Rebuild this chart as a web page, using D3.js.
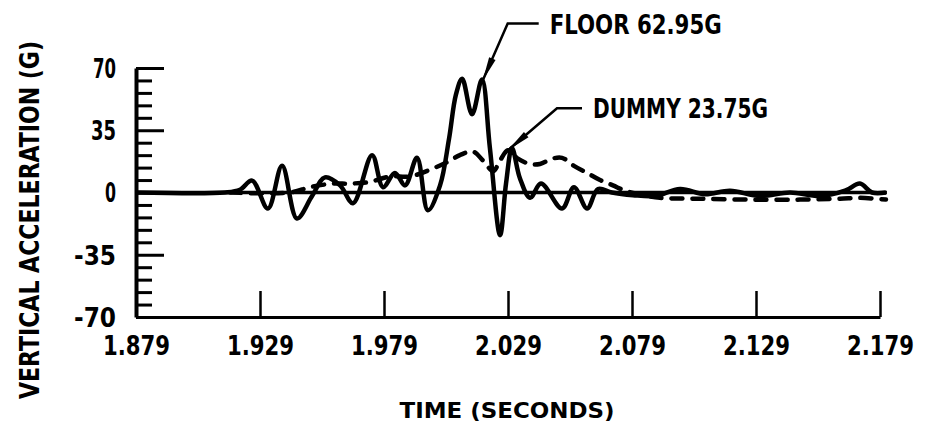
<!DOCTYPE html>
<html>
<head>
<meta charset="utf-8">
<script src="https://cdn.jsdelivr.net/npm/d3@7"></script>
<style>
  html, body { margin: 0; padding: 0; background: #fff; }
  svg text { font-family: "DejaVu Sans Condensed", "Liberation Sans Narrow", "DejaVu Sans", sans-serif; font-weight: bold; fill: #000; }
</style>
</head>
<body>
<svg id="chart" width="929" height="430"></svg>
<script>
// ---------- data ----------
const xTickValues = [1.879, 1.929, 1.979, 2.029, 2.079, 2.129, 2.179];
const xTickLabels = ["1.879", "1.929", "1.979", "2.029", "2.079", "2.129", "2.179"];
const yTickValues = [70, 35, 0, -35, -70];
const yTickLabels = ["70", "35", "0", "-35", "-70"];
const yMinorTicks = [63, 56, 49, 42, 28, 21, 14, 7, -7, -14, -21, -28, -42, -49, -56, -63];

const floorTime = [1.8790, 1.9149, 1.9209, 1.9258, 1.9322, 1.9379, 1.9439, 1.9500, 1.9552, 1.9613,
  1.9665, 1.9742, 1.9786, 1.9834, 1.9875, 1.9923, 1.9967, 2.0016, 2.0052, 2.0080,
  2.0105, 2.0145, 2.0185, 2.0217, 2.0258, 2.0282, 2.0306, 2.0338, 2.0379, 2.0423,
  2.0508, 2.0556, 2.0609, 2.0653, 2.0709, 2.0794, 2.0883, 2.0984, 2.1084, 2.1185,
  2.1306, 2.1427, 2.1548, 2.1649, 2.1709, 2.1758, 2.1814];
const floorG = [0, 0, 1.5, 6.7, -9, 15, -14.6, -2, 8.5, 4,
  -6, 21, 3, 11, 4, 19.5, -10, 4, 30, 55,
  64, 44, 63.5, 25, -24, 5, 25, 8, -3, 5,
  -9, 3, -9, 2, 0, -1.5, -2, 2, -1, 1,
  -2, 0, -2, 1, 5, 0, 0];

const dummyTime = [1.9169, 1.9411, 1.9492, 1.9584, 1.9653, 1.9734, 1.9814, 1.9895, 1.9996, 2.0044,
  2.0096, 2.0149, 2.0189, 2.0230, 2.0258, 2.0290, 2.0330, 2.0379, 2.0419, 2.0468,
  2.0508, 2.0556, 2.0609, 2.0661, 2.0713, 2.0762, 2.0822, 2.0903, 2.1064, 2.1266,
  2.1468, 2.1629, 2.1709, 2.1814];
const dummyG = [0, 0, 3, 5, 5, 6, 9, 9, 14, 17,
  21, 23, 18, 12, 18, 23.75, 19, 16, 16, 19,
  19.5, 15, 11, 7, 4, 1, -1, -3, -3.5, -4,
  -4, -3.5, -3, -4];

const floorPeak = { t: 2.0188, g: 62.95, label: "FLOOR 62.95G" };
const dummyPeak = { t: 2.0290, g: 23.75, label: "DUMMY 23.75G" };
const xTitle = "TIME (SECONDS)";
const yTitle = "VERTICAL ACCELERATION (G)";
const zeroLineEnd = 2.1818;

// ---------- chart ----------
const svg = d3.select("#chart");
const x = d3.scaleLinear().domain([1.879, 2.179]).range([136, 880]);
const y = d3.scaleLinear().domain([-70, 70]).range([317, 68]);

// zero line
svg.append("line")
  .attr("x1", x(1.879)).attr("x2", x(zeroLineEnd))
  .attr("y1", y(0)).attr("y2", y(0))
  .attr("stroke", "#000").attr("stroke-width", 3.5);

// x axis
const xAxis = svg.append("g")
  .attr("transform", `translate(0,${y(-70)})`)
  .call(d3.axisBottom(x).tickValues(xTickValues).tickSize(-26).tickSizeOuter(0)
    .tickFormat((d, i) => xTickLabels[i]));
xAxis.select(".domain").attr("stroke-width", 3).attr("stroke", "#000");
xAxis.selectAll(".tick line").attr("stroke-width", 2.5).attr("stroke", "#000");
xAxis.selectAll(".tick text")
  .attr("y", 38).attr("dy", null)
  .attr("font-size", 26)
  .attr("textLength", 67).attr("lengthAdjust", "spacingAndGlyphs");

// y axis minor ticks
const yMinor = svg.append("g")
  .attr("transform", `translate(${x(1.879)},0)`)
  .call(d3.axisLeft(y).tickValues(yMinorTicks).tickSize(-16).tickSizeOuter(0).tickFormat(""));
yMinor.select(".domain").remove();
yMinor.selectAll(".tick line").attr("stroke-width", 3).attr("stroke", "#000");

// y axis major
const yAxis = svg.append("g")
  .attr("transform", `translate(${x(1.879)},0)`)
  .call(d3.axisLeft(y).tickValues(yTickValues).tickSize(-28).tickSizeOuter(0)
    .tickFormat((d, i) => yTickLabels[i]));
yAxis.select(".domain").attr("stroke-width", 4).attr("stroke", "#000");
yAxis.selectAll(".tick line").attr("stroke-width", 3).attr("stroke", "#000");
const yLabelWidth = { "70": 23, "35": 25, "0": 11, "-35": 42, "-70": 42 };
yAxis.selectAll(".tick text")
  .attr("x", -20).attr("dy", "0.36em")
  .attr("font-size", 26)
  .attr("text-anchor", "end")
  .attr("textLength", (d, i) => yLabelWidth[yTickLabels[i]])
  .attr("lengthAdjust", "spacingAndGlyphs");

// lines
const line = d3.line().curve(d3.curveCatmullRom.alpha(0.5))
  .x(d => x(d[0])).y(d => y(d[1]));

svg.append("path")
  .datum(dummyTime.map((t, i) => [t, dummyG[i]]))
  .attr("d", line)
  .attr("fill", "none").attr("stroke", "#000")
  .attr("stroke-width", 4.5)
  .attr("stroke-dasharray", "11,10")
  .attr("stroke-linecap", "round");

svg.append("path")
  .datum(floorTime.map((t, i) => [t, floorG[i]]))
  .attr("d", line)
  .attr("fill", "none").attr("stroke", "#000")
  .attr("stroke-width", 4.5)
  .attr("stroke-linejoin", "round");

// annotations
function annotate(p, dx1, dy1, hlen, textW, fontSize) {
  const tx = x(p.t), ty = y(p.g);
  const kx = tx + dx1, ky = ty + dy1;     // knee of leader
  svg.append("polyline")
    .attr("points", `${tx},${ty} ${kx},${ky} ${kx + hlen},${ky}`)
    .attr("fill", "none").attr("stroke", "#000").attr("stroke-width", 2.5);
  // arrowhead
  const ang = Math.atan2(ky - ty, kx - tx);
  const L = 24, W = 3.5;
  const bx = tx + L * Math.cos(ang), by = ty + L * Math.sin(ang);
  const px = -Math.sin(ang) * W, py = Math.cos(ang) * W;
  svg.append("polygon")
    .attr("points", `${tx},${ty} ${bx + px},${by + py} ${bx - px},${by - py}`)
    .attr("fill", "#000");
  svg.append("text")
    .attr("x", kx + hlen + 11).attr("y", ky + 10)
    .attr("font-size", fontSize)
    .attr("textLength", textW).attr("lengthAdjust", "spacingAndGlyphs")
    .text(p.label);
}
annotate(floorPeak, 25, -57, 31, 172, 27);
annotate(dummyPeak, 49, -42, 25, 175, 27);

// axis titles
svg.append("text")
  .attr("x", 507).attr("y", 418)
  .attr("text-anchor", "middle")
  .attr("font-size", 21)
  .attr("textLength", 215).attr("lengthAdjust", "spacingAndGlyphs")
  .text(xTitle);

svg.append("text")
  .attr("transform", "translate(39,220) rotate(-90)")
  .attr("text-anchor", "middle")
  .attr("font-size", 26)
  .attr("textLength", 358).attr("lengthAdjust", "spacingAndGlyphs")
  .text(yTitle);
</script>
</body>
</html>
